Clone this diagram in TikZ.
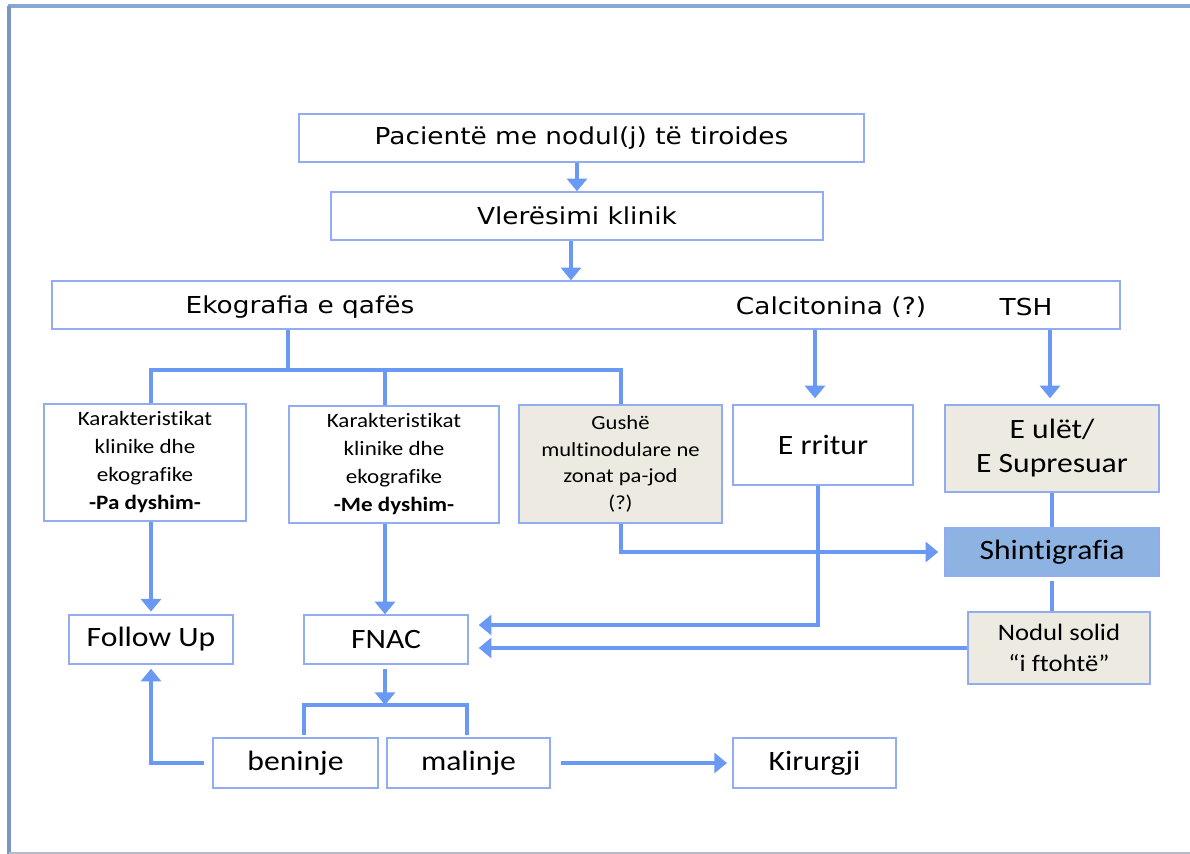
\documentclass[tikz,border=0pt]{standalone}
\usepackage{fontspec}
\newfontfamily\calf{Carlito}[FakeStretch=1.13, Ligatures=NoCommon]
\newfontfamily\tahf{DejaVu Sans}[FakeStretch=1.13]
\usetikzlibrary{arrows.meta}
\definecolor{lnc}{RGB}{106,152,245}
\definecolor{bdc}{RGB}{146,172,242}
\definecolor{beig}{RGB}{237,235,225}
\definecolor{shc}{RGB}{141,179,226}
\definecolor{frt}{RGB}{138,166,212}
\definecolor{frl}{RGB}{122,150,196}
\definecolor{frb}{RGB}{180,188,200}
\begin{document}
\begin{tikzpicture}[x=0.75pt,y=-0.75pt,
  bx/.style 2 args={draw=bdc, line width=1.1pt, minimum width=#1*0.75pt, minimum height=#2*0.75pt, inner sep=0pt, align=center, fill=white},
  tl/.style={font=\tahf\fontsize{17.5}{21}\selectfont},
  lg/.style={font=\calf\fontsize{21}{25.5}\selectfont},
  sm/.style={font=\calf\fontsize{15.3}{21}\selectfont},
  gs/.style={font=\calf\fontsize{15}{20}\selectfont},
  md/.style={font=\calf\fontsize{17.7}{23}\selectfont},
  ln/.style={draw=lnc, line width=3.2pt},
  arr/.style={ln, -{Triangle[length=9.5pt,width=15pt]}}
]
\useasboundingbox (0,0) rectangle (1190,854);
\fill[white] (0,0) rectangle (1190,854);
\draw[frt, line width=2.8pt] (8,6) -- (1190,6);
\draw[frl, line width=2.5pt] (9,6) -- (9,854);
\draw[frb, line width=1.2pt] (9,853) -- (1190,853);

% x positions
\coordinate (xa) at (151,0);
\coordinate (tj) at (288,370);
\coordinate (xm) at (385,0);
\coordinate (xg) at (621,0);
\coordinate (xc) at (815,0);
\coordinate (xt) at (1050,0);
\coordinate (xe) at (818,0);
\coordinate (xs) at (1052,0);
\coordinate (sj) at (385,705);
\coordinate (xb) at (304,0);
\coordinate (xk) at (467,0);
\coordinate (xv) at (571,0);
\coordinate (fy1) at (0,625);

\node[bx={565}{48}, tl] (pac) at (581.5,138) {Pacientë me nodul(j) të tiroides};
\node[bx={492}{48}, tl] (vle) at (577,216) {Vlerësimi klinik};
\node[bx={1068}{48}] (big) at (586,305) {};
\node[tl] (eko) at (300,307) {Ekografia e qafës};
\node[tl] (calc) at (831,307) {Calcitonina (?)};
\node[tl] (tsh) at (1026,307) {TSH};

\node[bx={202}{117}, sm] (pa) at (145,462.5) {Karakteristikat\\klinike dhe\\ekografike\\\textbf{-Pa dyshim-}};
\node[bx={210}{117}, sm] (me) at (394,464.5) {Karakteristikat\\klinike dhe\\ekografike\\\textbf{-Me dyshim-}};
\node[bx={203}{118}, gs, fill=beig] (gus) at (620.5,464) {Gushë\\multinodulare ne\\zonat pa-jod\\(?)};
\node[bx={180}{80}, lg] (err) at (823,445) {E rritur};
\node[bx={214}{87}, lg, fill=beig] (ulet) at (1052,448.5) {E ulët/\\E Supresuar};
\node[bx={214}{48}, lg, fill=shc] (shin) at (1052,552) {Shintigrafia};
\node[bx={182}{72}, md, fill=beig] (nod) at (1059,648) {Nodul solid\\“i ftohtë”};
\node[bx={164}{49}, lg] (fol) at (151,639.5) {Follow Up};
\node[bx={164}{49}, lg] (fnac) at (386,639.5) {FNAC};
\node[bx={165}{50}, lg] (ben) at (295.5,763) {beninje};
\node[bx={163}{50}, lg] (mal) at (468.5,763) {malinje};
\node[bx={163}{50}, lg] (kir) at (814.5,763) {Kirurgji};

\draw[arr] (pac.south -| vle.north) -- (vle.north);
\draw[arr] (vle.south -| xv) -- (big.north -| xv);
\draw[ln] (big.south -| tj) -- (tj);
\draw[ln] (pa.north -| xa) |- (tj) -| (gus.north -| xg);
\draw[ln] (me.north -| xm) -- (xm |- tj);
\draw[arr, shorten >=4.5pt] (big.south -| xc) -- (err.north -| xc);
\draw[arr, shorten >=4.5pt] (big.south -| xt) -- (ulet.north -| xt);
\draw[ln] (ulet.south -| xs) -- (shin.north -| xs);
\draw[ln, shorten <=3pt] (shin.south -| xs) -- (nod.north -| xs);
\draw[arr, shorten >=4.5pt] (gus.south -| xg) |- (shin.west);
\draw[arr, shorten >=7.5pt] (err.south -| xe) |- (fnac.east |- fy1);
\draw[arr, shorten >=7.5pt] (nod.west) -- (fnac.east |- nod.west);
\draw[arr, shorten >=2pt] (pa.south -| xa) -- (fol.north -| xa);
\draw[arr] (me.south -| xm) -- (fnac.north -| xm);
\draw[ln, shorten <=2pt, shorten >=2pt] (ben.north -| xb) |- (sj) -| (mal.north -| xk);
\draw[arr, shorten <=3pt] (fnac.south -| xm) -- (sj);
\draw[arr, shorten <=6pt, shorten >=3pt] (ben.west) -| (fol.south);
\draw[arr, shorten <=7.5pt, shorten >=4pt] (mal.east) -- (kir.west);
\end{tikzpicture}
\end{document}
